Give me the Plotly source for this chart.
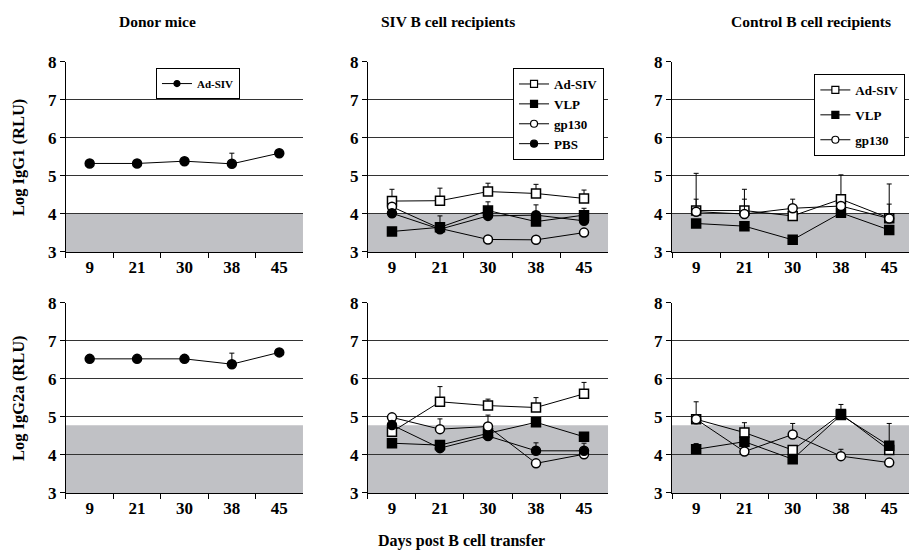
import plotly.graph_objects as go

days = ["9", "21", "30", "38", "45"]

# Donor mice
donor_igg1 = [5.33, 5.33, 5.39, 5.32, 5.60]
donor_igg1_err = [0.0, 0.0, 0.05, 0.28, 0.0]
donor_igg2a = [6.53, 6.53, 6.53, 6.39, 6.70]
donor_igg2a_err = [0.0, 0.0, 0.0, 0.29, 0.0]

# SIV B cell recipients - IgG1
siv_igg1_adsiv = [4.34, 4.35, 4.59, 4.54, 4.41]
siv_igg1_adsiv_err = [0.31, 0.33, 0.22, 0.24, 0.22]
siv_igg1_vlp = [3.54, 3.65, 4.09, 3.80, 3.97]
siv_igg1_vlp_err = [0.0, 0.30, 0.23, 0.0, 0.18]
siv_igg1_gp130 = [4.19, 3.62, 3.33, 3.32, 3.51]
siv_igg1_gp130_err = [0.0, 0.0, 0.0, 0.0, 0.0]
siv_igg1_pbs = [4.02, 3.60, 3.95, 3.97, 3.82]
siv_igg1_pbs_err = [0.0, 0.0, 0.0, 0.27, 0.0]

# SIV B cell recipients - IgG2a
siv_igg2a_adsiv = [4.61, 5.40, 5.30, 5.25, 5.61]
siv_igg2a_adsiv_err = [0.0, 0.40, 0.17, 0.26, 0.30]
siv_igg2a_vlp = [4.31, 4.26, 4.57, 4.86, 4.48]
siv_igg2a_vlp_err = [0.0, 0.0, 0.0, 0.0, 0.0]
siv_igg2a_gp130 = [4.99, 4.68, 4.75, 3.78, 4.02]
siv_igg2a_gp130_err = [0.0, 0.27, 0.30, 0.0, 0.0]
siv_igg2a_pbs = [4.79, 4.18, 4.50, 4.11, 4.11]
siv_igg2a_pbs_err = [0.0, 0.0, 0.0, 0.21, 0.20]

# Control B cell recipients - IgG1
ctl_igg1_adsiv = [4.09, 4.09, 3.95, 4.39, 3.89]
ctl_igg1_adsiv_err = [0.98, 0.56, 0.0, 0.64, 0.90]
ctl_igg1_vlp = [3.75, 3.68, 3.32, 4.03, 3.58]
ctl_igg1_vlp_err = [0.0, 0.0, 0.0, 0.0, 0.0]
ctl_igg1_gp130 = [4.06, 4.00, 4.15, 4.21, 3.88]
ctl_igg1_gp130_err = [0.33, 0.39, 0.24, 0.0, 0.38]

# Control B cell recipients - IgG2a
ctl_igg2a_adsiv = [4.94, 4.59, 4.13, 5.08, 4.13]
ctl_igg2a_adsiv_err = [0.46, 0.26, 0.0, 0.25, 0.70]
ctl_igg2a_vlp = [4.15, 4.35, 3.89, 5.05, 4.24]
ctl_igg2a_vlp_err = [0.15, 0.0, 0.0, 0.0, 0.0]
ctl_igg2a_gp130 = [4.94, 4.09, 4.54, 3.97, 3.80]
ctl_igg2a_gp130_err = [0.0, 0.0, 0.29, 0.18, 0.0]

# background cutoffs
igg1_cutoff = 4.0
igg2a_cutoff = 4.78

panel_titles = ["Donor mice", "SIV B cell recipients", "Control B cell recipients"]
y_titles = ["Log IgG1 (RLU)", "Log IgG2a (RLU)"]
x_title = "Days post B cell transfer"
donor_legend = ["Ad-SIV"]
siv_legend = ["Ad-SIV", "VLP", "gp130", "PBS"]
ctl_legend = ["Ad-SIV", "VLP", "gp130"]

FONT = "Liberation Serif"
GRAY = "#C0C1C5"

STYLE = {
    "Ad-SIV": dict(symbol="square", color="white"),
    "VLP": dict(symbol="square", color="black"),
    "gp130": dict(symbol="circle", color="white"),
    "PBS": dict(symbol="circle", color="black"),
    "Donor": dict(symbol="circle", color="black"),
}

fig = go.Figure()


def axn(ax):
    return "" if ax == 1 else str(ax)


def add(name, style, y, err, ax):
    st = STYLE[style]
    fig.add_trace(go.Scatter(
        x=days, y=y, name=name, mode="lines+markers",
        xaxis="x" + axn(ax), yaxis="y" + axn(ax),
        line=dict(color="black", width=1),
        marker=dict(symbol=st["symbol"], size=9, color=st["color"],
                    line=dict(color="black", width=1.5)),
        error_y=dict(type="data", symmetric=False, array=err,
                     arrayminus=[0] * len(err), color="black",
                     thickness=1, width=2.5),
        showlegend=False,
    ))


def add_legend_entry(name, style, ax, legend, msize):
    st = STYLE[style]
    fig.add_trace(go.Scatter(
        x=[None], y=[None], name=name, mode="lines+markers",
        xaxis="x" + axn(ax), yaxis="y" + axn(ax),
        line=dict(color="black", width=1),
        marker=dict(symbol=st["symbol"], size=msize, color=st["color"],
                    line=dict(color="black", width=1.2)),
        legend=legend, legendgroup=legend + name, showlegend=True,
        hoverinfo="skip",
    ))


# row 1 (IgG1)
add("Ad-SIV", "Donor", donor_igg1, donor_igg1_err, 1)
add("Ad-SIV", "Ad-SIV", siv_igg1_adsiv, siv_igg1_adsiv_err, 2)
add("VLP", "VLP", siv_igg1_vlp, siv_igg1_vlp_err, 2)
add("gp130", "gp130", siv_igg1_gp130, siv_igg1_gp130_err, 2)
add("PBS", "PBS", siv_igg1_pbs, siv_igg1_pbs_err, 2)
add("Ad-SIV", "Ad-SIV", ctl_igg1_adsiv, ctl_igg1_adsiv_err, 3)
add("VLP", "VLP", ctl_igg1_vlp, ctl_igg1_vlp_err, 3)
add("gp130", "gp130", ctl_igg1_gp130, ctl_igg1_gp130_err, 3)
# row 2 (IgG2a)
add("Ad-SIV", "Donor", donor_igg2a, donor_igg2a_err, 4)
add("Ad-SIV", "Ad-SIV", siv_igg2a_adsiv, siv_igg2a_adsiv_err, 5)
add("VLP", "VLP", siv_igg2a_vlp, siv_igg2a_vlp_err, 5)
add("gp130", "gp130", siv_igg2a_gp130, siv_igg2a_gp130_err, 5)
add("PBS", "PBS", siv_igg2a_pbs, siv_igg2a_pbs_err, 5)
add("Ad-SIV", "Ad-SIV", ctl_igg2a_adsiv, ctl_igg2a_adsiv_err, 6)
add("VLP", "VLP", ctl_igg2a_vlp, ctl_igg2a_vlp_err, 6)
add("gp130", "gp130", ctl_igg2a_gp130, ctl_igg2a_gp130_err, 6)

# legend entries
for n in donor_legend:
    add_legend_entry(n, "Donor", 1, "legend", 6)
for n in siv_legend:
    add_legend_entry(n, n, 2, "legend2", 7)
for n in ctl_legend:
    add_legend_entry(n, n, 3, "legend3", 7)

xdomains = [[0.0726, 0.3333], [0.4048, 0.6689], [0.7393, 1.0]]
xranges = [[-0.5, 4.5], [-0.5, 4.5], [-0.5, 4.41]]
ydomains = [[0.5484, 0.8889], [0.1165, 0.4570]]
cutoffs = [igg1_cutoff, igg2a_cutoff]

layout = dict(
    width=909, height=558, margin=dict(l=0, r=0, t=0, b=0),
    paper_bgcolor="white", plot_bgcolor="white", template="none",
    font=dict(family=FONT, size=14, color="black", weight="bold"),
    shapes=[], annotations=[],
)

for r in range(2):
    for c in range(3):
        i = r * 3 + c + 1
        sfx = axn(i)
        layout["xaxis" + sfx] = dict(
            domain=xdomains[c], anchor="y" + sfx, type="category",
            categoryorder="array", categoryarray=days, range=xranges[c],
            tickson="boundaries", ticks="outside", ticklen=5, tickwidth=1,
            tickcolor="black", showline=True, linecolor="black", linewidth=1,
            showgrid=False, zeroline=False, automargin=False,
            tickfont=dict(family=FONT, size=17, color="black", weight="bold"),
        )
        layout["yaxis" + sfx] = dict(
            domain=ydomains[r], anchor="x" + sfx, range=[3, 8], dtick=1,
            tick0=3, ticks="outside", ticklen=5, tickwidth=1, tickcolor="black",
            showline=True, linecolor="black", linewidth=1,
            showgrid=True, gridcolor="#333333", gridwidth=1, zeroline=False,
            automargin=False,
            tickfont=dict(family=FONT, size=17, color="black", weight="bold"),
        )
        layout["shapes"].append(dict(
            type="rect", xref="x" + sfx + " domain", yref="y" + sfx,
            x0=0, x1=1, y0=3, y1=cutoffs[r], fillcolor=GRAY,
            line=dict(width=0), layer="below",
        ))

title_x = [0.1738, 0.4928, 0.8922]
for t, xx in zip(panel_titles, title_x):
    layout["annotations"].append(dict(
        text=t, x=xx, y=0.9606, xref="paper", yref="paper", showarrow=False,
        xanchor="center", yanchor="middle",
        font=dict(family=FONT, size=15.5, weight="bold")))
for t, yy in zip(y_titles, [0.7186, 0.2867]):
    layout["annotations"].append(dict(
        text=t, x=0.0198, y=yy, xref="paper", yref="paper", showarrow=False,
        textangle=-90, xanchor="center", yanchor="middle",
        font=dict(family=FONT, size=16.5, weight="bold")))
layout["annotations"].append(dict(
    text=x_title, x=0.508, y=0.0305, xref="paper", yref="paper",
    showarrow=False, xanchor="center", yanchor="middle",
    font=dict(family=FONT, size=16, weight="bold")))

leg_common = dict(bgcolor="white", bordercolor="black", borderwidth=1,
                  xanchor="right", yanchor="top", itemwidth=30,
                  traceorder="grouped")
legfont = lambda s: dict(family=FONT, size=s, color="black", weight="bold")
layout["legend"] = dict(x=0.264, y=0.878, tracegroupgap=0, font=legfont(11),
                        **leg_common)
layout["legend2"] = dict(x=0.6645, y=0.8781, tracegroupgap=0, font=legfont(13),
                         **leg_common)
layout["legend3"] = dict(x=0.996, y=0.8674, tracegroupgap=5, font=legfont(13),
                         **leg_common)

fig.update_layout(**layout)
fig.write_html(
    "out.html",
    config={"displayModeBar": False},
    post_script="document.body.style.margin='0';"
                "document.body.style.overflow='hidden';",
)
